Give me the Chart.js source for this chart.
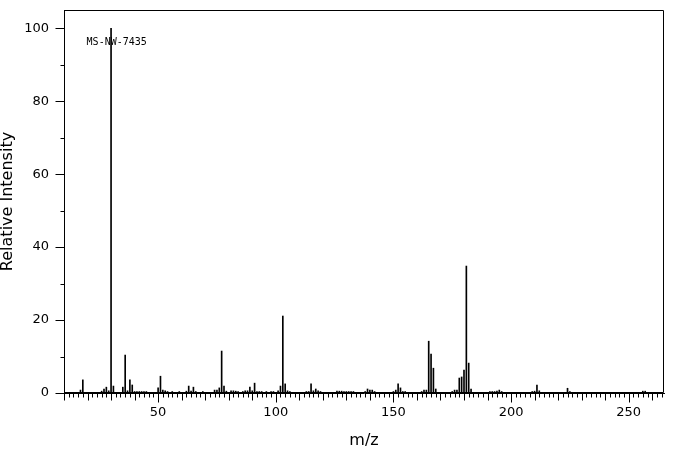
<!DOCTYPE html>
<html>
<head>
<meta charset="utf-8">
<script src="https://cdn.jsdelivr.net/npm/chart.js@4/dist/chart.umd.min.js"></script>
<style>
  html, body { margin: 0; padding: 0; background: #ffffff; }
  #wrap { width: 676px; height: 455px; }
</style>
</head>
<body>
<div id="wrap"><canvas id="c" width="676" height="455"></canvas></div>
<script>
// m/z values of the peaks
const mzValues = [
  17, 18, 26, 27, 28, 29, 30, 31, 35, 36, 37, 38, 39, 40, 41, 42, 43, 44, 45,
  50, 51, 52, 53, 54, 56, 59, 62, 63, 64, 65, 66, 69,
  74, 75, 76, 77, 78, 79, 81, 82, 83, 84, 86, 87, 88, 89, 90, 91, 92, 93, 94, 96, 98, 99,
  101, 102, 103, 104, 105, 106, 113, 114, 115, 116, 117, 118, 119,
  126, 127, 128, 129, 130, 131, 132, 133, 138, 139, 140, 141, 142,
  150, 151, 152, 153, 154, 155, 162, 163, 164, 165, 166, 167, 168,
  175, 176, 177, 178, 179, 180, 181, 182, 183,
  191, 192, 193, 194, 195, 196, 209, 210, 211, 212, 224, 225, 256, 257
];
// relative intensities of the peaks (same order)
const intensities = [
  0.8, 3.6, 0.5, 1.1, 1.6, 0.6, 100, 1.9, 1.6, 10.4, 0.6, 3.6, 2.2, 0.4, 0.4, 0.4, 0.4, 0.4, 0.4,
  1.4, 4.6, 0.8, 0.6, 0.4, 0.4, 0.4, 0.5, 1.9, 0.5, 1.6, 0.4, 0.4,
  0.8, 0.8, 1.4, 11.5, 1.9, 0.5, 0.6, 0.6, 0.5, 0.4, 0.4, 0.6, 0.6, 1.6, 0.6, 2.7, 0.4, 0.4, 0.4, 0.4, 0.4, 0.4,
  0.6, 1.9, 21.1, 2.5, 0.6, 0.4, 0.4, 0.4, 2.5, 0.6, 1.1, 0.6, 0.4,
  0.5, 0.5, 0.5, 0.4, 0.4, 0.4, 0.4, 0.4, 0.4, 1.1, 0.8, 0.8, 0.4,
  0.4, 0.8, 2.5, 1.4, 0.4, 0.4, 0.4, 0.8, 0.8, 14.2, 10.7, 6.8, 1.1,
  0.4, 0.8, 0.8, 4.1, 4.4, 6.3, 34.8, 8.2, 1.1,
  0.4, 0.4, 0.4, 0.5, 0.8, 0.4, 0.4, 0.5, 2.2, 0.6, 1.3, 0.4, 0.5, 0.5
];
const xRange = [10, 265];
const yRange = [0, 105];
const xLabelStep = 50;
const yLabelStep = 20;
const xMinorStep = 2;
const xMidStep = 10;
const yMinorStep = 10;
const annotationText = 'MS-NW-7435';
const annotationAt = [19.6, 96.2];
const xTitle = 'm/z';
const yTitle = 'Relative Intensity';

const points = mzValues.map((m, i) => ({ x: m, y: intensities[i] }));

const tickPlugin = {
  id: 'ticksAndFrame',
  afterDraw(chart) {
    const ctx = chart.ctx;
    const area = chart.chartArea;
    const xs = chart.scales.x, ys = chart.scales.y;
    ctx.save();
    ctx.strokeStyle = '#000';
    ctx.lineWidth = 1;
    // frame
    ctx.beginPath();
    ctx.rect(Math.round(area.left) + 0.5, Math.round(area.top) + 0.5,
             Math.round(area.right - area.left) - 1, Math.round(area.bottom - area.top) - 1);
    ctx.stroke();
    // x ticks
    ctx.beginPath();
    const yb = Math.round(area.bottom) - 0.5;
    for (let v = xRange[0]; v <= xRange[1]; v += xMinorStep) {
      const px = Math.round(xs.getPixelForValue(v)) + 0.5;
      let len = 5;
      if (v % xLabelStep === 0) len = 10; else if (v % xMidStep === 0) len = 8;
      ctx.moveTo(px, yb);
      ctx.lineTo(px, yb + len);
    }
    // y ticks
    const xl = Math.round(area.left) + 0.5;
    for (let v = 0; v <= 100; v += yMinorStep) {
      const py = Math.round(ys.getPixelForValue(v)) + 0.5;
      const len = (v % yLabelStep === 0) ? 9 : 4;
      ctx.moveTo(xl, py);
      ctx.lineTo(xl - len, py);
    }
    ctx.stroke();
    // annotation
    ctx.fillStyle = '#000';
    ctx.font = '10px "DejaVu Sans Mono"';
    ctx.textBaseline = 'middle';
    ctx.textAlign = 'left';
    ctx.fillText(annotationText, xs.getPixelForValue(annotationAt[0]), ys.getPixelForValue(annotationAt[1]));
    ctx.restore();
  }
};

new Chart(document.getElementById('c'), {
  type: 'bar',
  data: {
    datasets: [{
      data: points,
      backgroundColor: '#000',
      borderWidth: 0,
      barThickness: 1,
      grouped: false
    }]
  },
  options: {
    responsive: false,
    animation: false,
    layout: { padding: { top: 10, right: 12, left: 0, bottom: 0 } },
    plugins: { legend: { display: false }, tooltip: { enabled: false } },
    scales: {
      x: {
        type: 'linear',
        offset: false,
        min: xRange[0],
        max: xRange[1],
        afterFit(s) { s.height = 62; s.paddingLeft = 0; s.paddingRight = 0; },
        grid: { display: false, drawTicks: false },
        border: { display: true, color: '#000', width: 1 },
        ticks: {
          stepSize: xLabelStep,
          includeBounds: false,
          autoSkip: false,
          maxRotation: 0,
          padding: 12,
          color: '#000',
          font: { family: '"DejaVu Sans"', size: 13 }
        },
        title: {
          display: true,
          text: xTitle,
          color: '#000',
          font: { family: '"DejaVu Sans"', size: 16, lineHeight: 1 },
          padding: { top: 0, bottom: 6 }
        }
      },
      y: {
        min: yRange[0],
        max: yRange[1],
        afterFit(s) { s.width = 64; s.paddingTop = 0; s.paddingBottom = 0; },
        grid: { display: false, drawTicks: false },
        border: { display: true, color: '#000', width: 1 },
        ticks: {
          stepSize: yLabelStep,
          includeBounds: false,
          padding: 15,
          color: '#000',
          font: { family: '"DejaVu Sans"', size: 13 }
        },
        title: {
          display: true,
          text: yTitle,
          color: '#000',
          font: { family: '"DejaVu Sans"', size: 16, lineHeight: 1 },
          padding: { top: 0, bottom: 0 }
        }
      }
    }
  },
  plugins: [tickPlugin]
});
</script>
</body>
</html>
